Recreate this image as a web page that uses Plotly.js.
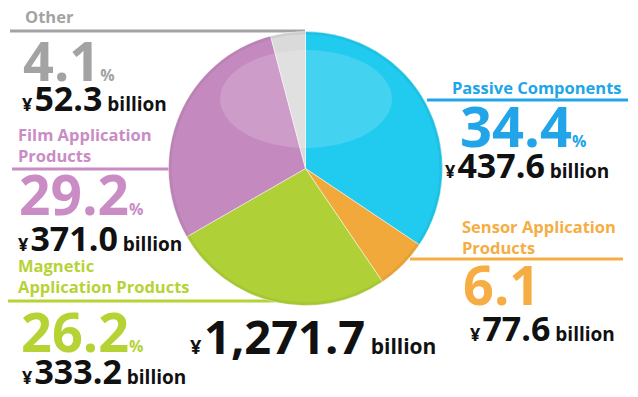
<!DOCTYPE html>
<html><head><meta charset="utf-8">
<script src="https://cdn.plot.ly/plotly-3.0.1.min.js"></script>
<style>html,body{margin:0;padding:0;background:#fff}#chart{width:638px;height:397px}</style>
</head><body><div id="chart"></div>
<script>
// ---- data ----
const categories = ["Passive Components", "Sensor Application Products", "Magnetic Application Products", "Film Application Products", "Other"];
const labelText = ["Passive Components", "Sensor Application<br>Products", "Magnetic<br>Application Products", "Film Application<br>Products", "Other"];
const shares = [34.4, 6.1, 26.2, 29.2, 4.1];
const amounts = [437.6, 77.6, 333.2, 371.0, 52.3];
const totalAmount = 1271.7;
const showPercentSign = [true, false, true, true, true];

// ---- styles ----
const sliceColors = ["#20cbef", "#f2a93b", "#afd137", "#c489bf", "#dadada"];
const textColors = ["#21a5e8", "#f5ad44", "#b6d335", "#c98cc4", "#a3a3a3"];
const W = 638, H = 397;
const px = x => x / W, py = y => 1 - y / H;
const FONT = "Open Sans";

const blocks = [
  {left: 450, tY: 87.6, bigL: 458, bigY: 125, amtL: 443, amtY: 164.6, lx0: 427, lx1: 628, ly: 100, bigFs: 56},
  {left: 460, tY: 236.8, bigL: 461, bigY: 284, amtL: 468, amtY: 327.6, lx0: 410, lx1: 623, ly: 259, bigFs: 54},
  {left: 16, tY: 276.3, bigL: 19, bigY: 331, amtL: 20, amtY: 370.6, lx0: 8, lx1: 275, ly: 301, bigFs: 54},
  {left: 16, tY: 144.8, bigL: 17, bigY: 193.3, amtL: 16, amtY: 237.6, lx0: 12, lx1: 175, ly: 169, bigFs: 55},
  {left: 23, tY: 16.8, bigL: 21, bigY: 60, amtL: 20, amtY: 97.6, lx0: 10, lx1: 305, ly: 31, bigFs: 54}
];

function amountHTML(v, yenFs, gapFs, numFs, bilFs) {
  const s = v.toLocaleString('en-US', {minimumFractionDigits: 1, maximumFractionDigits: 1});
  return `<b><span style="font-size:${yenFs}px">¥</span><span style="font-size:${gapFs}px"> </span><span style="font-size:${numFs}px">${s}</span><span style="font-size:${bilFs}px"> billion</span></b>`;
}

const annotations = [];
const shapes = [];
categories.forEach((c, i) => {
  const b = blocks[i];
  annotations.push({xref: 'paper', yref: 'paper', x: px(b.left), y: py(b.tY), xanchor: 'left', yanchor: 'middle',
    text: `<b>${labelText[i]}</b>`, align: 'left', showarrow: false, font: {family: FONT, size: 16.5, color: textColors[i]}});
  const pct = showPercentSign[i] ? `<span style="font-size:16px">%</span>` : '';
  annotations.push({xref: 'paper', yref: 'paper', x: px(b.bigL), y: py(b.bigY), xanchor: 'left', yanchor: 'middle',
    text: `<b><span style="font-size:${b.bigFs}px">${shares[i].toFixed(1)}</span>${pct}</b>`, showarrow: false,
    font: {family: FONT, size: b.bigFs, color: textColors[i]}});
  annotations.push({xref: 'paper', yref: 'paper', x: px(b.amtL), y: py(b.amtY), xanchor: 'left', yanchor: 'middle',
    text: amountHTML(amounts[i], 18, 8, 34, 19), showarrow: false, font: {family: FONT, size: 34, color: '#111'}});
  shapes.push({type: 'line', xref: 'paper', yref: 'paper', x0: px(b.lx0), x1: px(b.lx1), y0: py(b.ly), y1: py(b.ly),
    line: {color: textColors[i], width: 3}, layer: 'below'});
});
annotations.push({xref: 'paper', yref: 'paper', x: px(188), y: py(336), xanchor: 'left', yanchor: 'middle',
  text: amountHTML(totalAmount, 20, 10, 47, 21), showarrow: false, font: {family: FONT, size: 47, color: '#111'}});

const cx = 305.5, cy = 168.5, r = 137;
// glossy highlight and soft rim on the pie
shapes.push({type: 'circle', xref: 'paper', yref: 'paper', x0: px(220), x1: px(392), y0: py(50), y1: py(148),
  fillcolor: 'rgba(255,255,255,0.16)', line: {width: 0}, layer: 'above'});
shapes.push({type: 'circle', xref: 'paper', yref: 'paper', x0: px(cx - r + 1.5), x1: px(cx + r - 1.5), y0: py(cy + r - 1.5), y1: py(cy - r + 1.5),
  fillcolor: 'rgba(0,0,0,0)', line: {width: 3, color: 'rgba(0,0,0,0.05)'}, layer: 'above'});

const trace = {
  type: 'pie', labels: categories, values: shares, sort: false, direction: 'clockwise', rotation: 0,
  marker: {colors: sliceColors, line: {color: 'rgba(255,255,255,0.6)', width: 0.8}},
  textinfo: 'none', hoverinfo: 'none', showlegend: false,
  domain: {x: [px(cx - r), px(cx + r)], y: [py(cy + r), py(cy - r)]}
};
const layout = {width: W, height: H, margin: {l: 0, r: 0, t: 0, b: 0}, paper_bgcolor: '#fff',
  showlegend: false, annotations, shapes, font: {family: FONT}};
Plotly.newPlot('chart', [trace], layout, {staticPlot: true, displayModeBar: false});
</script></body></html>
